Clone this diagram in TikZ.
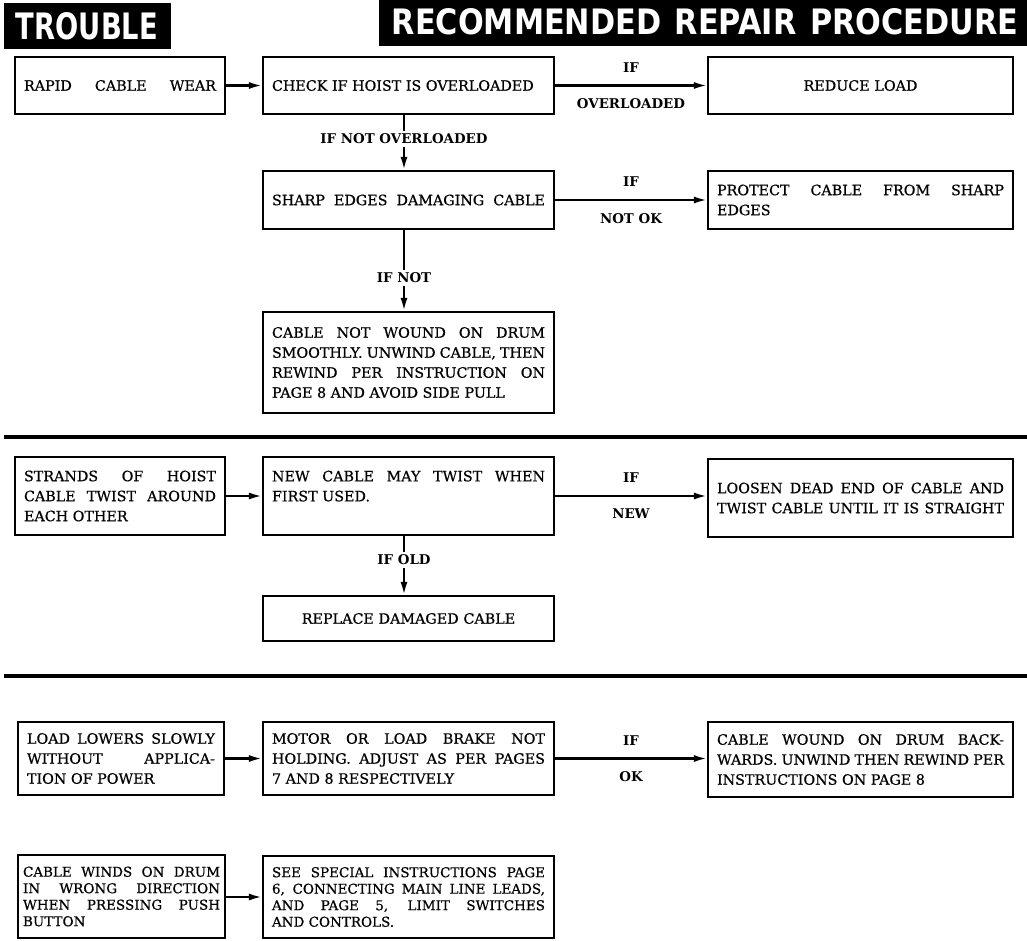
\documentclass[tikz,border=0pt]{standalone}
\usepackage{fontspec}
\usepackage{graphicx}
\usetikzlibrary{arrows.meta}
\newfontfamily\boxfont{DejaVu Serif}[FakeBold=0.6]
\newfontfamily\labfont{DejaVu Serif Bold}
\newfontfamily\hdrfont{DejaVu Sans}
\tikzset{
  box/.style={draw, line width=2.1pt, inner xsep=9pt, inner ysep=0pt,
    font=\boxfont\fontsize{14.3}{20}\selectfont, align=justify},
  tightbox/.style={font=\boxfont\fontsize{13.5}{16.5}\selectfont},
  lab/.style={font=\labfont\fontsize{13.4}{15}\selectfont, inner sep=0pt},
  vlab/.style={lab, inner sep=3pt},
  conn/.style={line width=2.2pt, -{Latex[length=13pt,width=7pt]}},
  plain/.style={line width=2.2pt},
  sepline/.style={line width=4.5pt},
  hdr/.style={fill=black, text=white, inner sep=0pt},
}
\newcommand{\bx}[7][]{%
  \pgfmathsetmacro\tw{#5-#3-18}%
  \pgfmathsetmacro\bh{#6-#4}%
  \node[box, text width=\tw pt, minimum height=\bh pt, #1] (#2) at ({(#3+#5)/2},{(#4+#6)/2}) {#7};}
\begin{document}
\begin{tikzpicture}[x=1pt,y=-1pt]
\useasboundingbox (0,0) rectangle (1027,940);
% headers
\node[hdr, minimum width=167pt, minimum height=46pt] (T) at (87,26)
  {\resizebox{142pt}{27pt}{\hdrfont\bfseries TROUBLE}};
\node[hdr, minimum width=652pt, minimum height=48pt] (R) at (705,22)
  {\resizebox{626pt}{26pt}{\hdrfont\bfseries RECOMMENDED\hspace{0.45em}REPAIR\hspace{0.45em}PROCEDURE}};
% section 1
\bx{A}{15}{57}{225}{114}{RAPID\hfill CABLE\hfill WEAR}
\bx{B}{263}{57}{554}{114}{CHECK IF HOIST IS OVERLOADED}
\bx[align=center]{C}{708}{57}{1013}{114}{REDUCE LOAD}
\bx{D}{263}{171}{554}{229}{SHARP\hfill EDGES\hfill DAMAGING\hfill CABLE}
\bx{F}{708}{171}{1013}{229}{PROTECT CABLE FROM SHARP\linebreak EDGES}
\bx{E}{263}{312}{554}{413}{CABLE NOT WOUND ON DRUM\linebreak SMOOTHLY. UNWIND CABLE, THEN\linebreak REWIND PER INSTRUCTION ON\linebreak PAGE 8 AND AVOID SIDE PULL}
\draw[conn] (A) -- (B);
\draw[conn] (B) -- node[lab, above=12pt] (if1) {IF} node[lab, below=12pt] (ov1) {OVERLOADED} (C);
\node[vlab] (nl1) at (404,139) {IF NOT OVERLOADED};
\draw[plain] (nl1 |- B.south) -- (nl1.north);
\draw[conn] (nl1.south) -- (nl1 |- D.north);
\draw[conn] (D) -- node[lab, above=12pt] (if2) {IF} node[lab, below=12pt] (nok) {NOT OK} (F);
\node[vlab] (nl2) at (404,278) {IF NOT};
\draw[plain] (nl2 |- D.south) -- (nl2.north);
\draw[conn] (nl2.south) -- (nl2 |- E.north);
\draw[sepline] (4,437) -- (1027,437);
% section 2
\bx{G}{15}{457}{225}{535}{STRANDS OF HOIST\linebreak CABLE TWIST AROUND\linebreak EACH OTHER}
\bx{H}{263}{457}{554}{535}{NEW CABLE MAY TWIST WHEN\linebreak FIRST USED.\\\mbox{}}
\bx{I}{708}{459}{1013}{537}{LOOSEN DEAD END OF CABLE AND\linebreak TWIST\hfill CABLE\hfill UNTIL\hfill IT\hfill IS\hfill STRAIGHT}
\bx[align=center]{J}{263}{596}{554}{641}{REPLACE DAMAGED CABLE}
\draw[conn] (G) -- (H);
\draw[conn] (H.east) -- node[lab, above=12pt] (if3) {IF} node[lab, below=12pt] (new) {NEW} (H.east -| I.west);
\node[vlab] (nl3) at (404,560) {IF OLD};
\draw[plain] (nl3 |- H.south) -- (nl3.north);
\draw[conn] (nl3.south) -- (nl3 |- J.north);
\draw[sepline] (4,676) -- (1027,676);
% section 3
\bx{K}{18}{722}{224}{795}{LOAD LOWERS SLOWLY\linebreak WITHOUT APPLICA-\linebreak TION OF POWER}
\bx{L}{263}{722}{554}{795}{MOTOR OR LOAD BRAKE NOT\linebreak HOLDING. ADJUST AS PER PAGES\linebreak 7 AND 8 RESPECTIVELY}
\bx{M}{708}{722}{1013}{797}{CABLE WOUND ON DRUM BACK-\linebreak WARDS. UNWIND THEN REWIND PER\linebreak INSTRUCTIONS ON PAGE 8}
\draw[conn] (K) -- (L);
\draw[conn] (L.east) -- node[lab, above=12pt] (if4) {IF} node[lab, below=12pt] (ok) {OK} (L.east -| M.west);
\bx[tightbox, inner xsep=5pt, text width=197pt]{N}{18}{855}{225}{938}{CABLE WINDS ON DRUM\linebreak IN WRONG DIRECTION\linebreak WHEN PRESSING PUSH\linebreak BUTTON}
\bx[tightbox]{O}{263}{856}{554}{938}{SEE SPECIAL INSTRUCTIONS PAGE\linebreak 6, CONNECTING MAIN LINE LEADS,\linebreak AND PAGE 5, LIMIT SWITCHES\linebreak AND CONTROLS.}
\draw[conn] (N.east |- O.west) -- (O.west);
\end{tikzpicture}
\end{document}
